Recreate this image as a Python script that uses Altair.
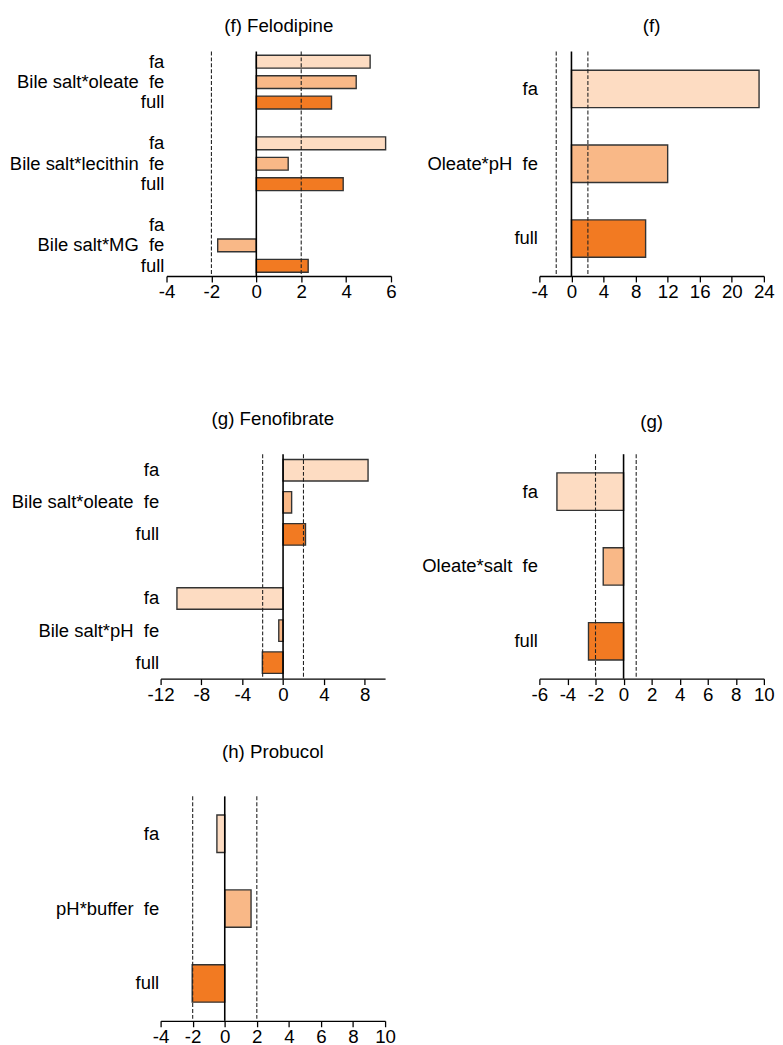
import altair as alt
import pandas as pd

SUBS = ["fa", "fe", "full"]
COLORS = ["#FDDCC2", "#F9B887", "#F27A22"]

# (f) Felodipine
f1_groups = ["Bile salt*oleate", "Bile salt*lecithin", "Bile salt*MG"]
f1_fa = [5.07, 5.76, None]
f1_fe = [4.45, 1.42, -1.72]
f1_full = [3.35, 3.87, 2.31]
f1_lines = [-2, 2]
f1_ticks = [-4, -2, 0, 2, 4, 6]
f1_domain = [-4, 6]

# (f) right
f2_groups = ["Oleate*pH"]
f2_fa = [23.4]
f2_fe = [12.0]
f2_full = [9.25]
f2_lines = [-1.9, 2.05]
f2_ticks = [-4, 0, 4, 8, 12, 16, 20, 24]
f2_domain = [-4, 24]

# (g) Fenofibrate
g1_groups = ["Bile salt*oleate", "Bile salt*pH"]
g1_fa = [8.33, -10.4]
g1_fe = [0.84, -0.42]
g1_full = [2.2, -2.03]
g1_lines = [-2, 2]
g1_ticks = [-12, -8, -4, 0, 4, 8]
g1_domain = [-12, 10]

# (g) right
g2_groups = ["Oleate*salt"]
g2_fa = [-4.75]
g2_fe = [-1.45]
g2_full = [-2.5]
g2_lines = [-2, 0.9]
g2_ticks = [-6, -4, -2, 0, 2, 4, 6, 8, 10]
g2_domain = [-6, 10]

# (h) Probucol
h_groups = ["pH*buffer"]
h_fa = [-0.49]
h_fe = [1.64]
h_full = [-2.03]
h_lines = [-2, 2]
h_ticks = [-4, -2, 0, 2, 4, 6, 8, 10]
h_domain = [-4, 10]

FS = 19
FS_Y = 18.7
NBSP = "\u00a0"
LABEL_EXPR = ("split(datum.value,'|')[1] == 'fe' ? split(datum.value,'|')[0] + '"
              + NBSP + NBSP + "fe' : split(datum.value,'|')[1]")


def panel(title, groups, fa, fe, full, lines, ticks, xdom, extent, toffset, pad_inner,
          inset=0, yoffset=0, tdx=0):
    rows = []
    ydomain = []
    for i, g in enumerate(groups):
        if i > 0:
            ydomain.append(f"gap{i}|")
        for sub, vals in zip(SUBS, [fa, fe, full]):
            key = f"{g}|{sub}"
            ydomain.append(key)
            if vals[i] is not None:
                rows.append({"key": key, "sub": sub, "v": vals[i]})
    df = pd.DataFrame(rows)

    width = 228 + inset
    xscale = alt.Scale(domain=xdom, nice=False, zero=False)
    if inset:
        xscale = alt.Scale(domain=xdom, nice=False, zero=False, range=[inset, width])
    x = alt.X(
        "v:Q",
        scale=xscale,
        axis=alt.Axis(title=None, values=ticks, grid=False, domainColor="black",
                      tickColor="black", tickSize=6, labelFontSize=FS, labelColor="black",
                      labelPadding=1, domainWidth=1.3, tickWidth=1.3, labelFlush=False,
                      labelOverlap=False, labelExpr="'' + datum.value"),
    )
    y = alt.Y(
        "key:N",
        sort=ydomain,
        scale=alt.Scale(domain=ydomain, paddingInner=pad_inner, paddingOuter=pad_inner / 2),
        axis=alt.Axis(title=None, domain=False, ticks=False, labelExpr=LABEL_EXPR,
                      labelFontSize=FS_Y, labelColor="black", labelPadding=2,
                      minExtent=extent, maxExtent=extent, labelLimit=400, offset=yoffset),
    )
    bars = alt.Chart(df).mark_bar(stroke="#333333", strokeWidth=1.4).encode(
        x=x, y=y,
        color=alt.Color("sub:N", scale=alt.Scale(domain=SUBS, range=COLORS), legend=None),
    )
    zero = alt.Chart(pd.DataFrame({"v": [0]})).mark_rule(color="black", strokeWidth=1.6).encode(x=x)
    dashed = alt.Chart(pd.DataFrame({"v": lines})).mark_rule(
        color="#222222", strokeWidth=1.1, strokeDash=[4, 2]).encode(x=x)
    return alt.layer(bars, zero, dashed).properties(
        width=width, height=228,
        title=alt.TitleParams(title, fontSize=FS, fontWeight="normal", color="black",
                              offset=toffset, anchor="middle", frame="group", dx=tdx),
    )


f1 = panel("(f) Felodipine", f1_groups, f1_fa, f1_fe, f1_full, f1_lines, f1_ticks, f1_domain,
           150, 15.3, 0.37, inset=6, yoffset=-5.3, tdx=3)
f2 = panel("(f)", f2_groups, f2_fa, f2_fe, f2_full, f2_lines, f2_ticks, f2_domain, 120, 15.3, 0.5)
g1 = panel("(g) Fenofibrate", g1_groups, g1_fa, g1_fe, g1_full, g1_lines, g1_ticks, g1_domain, 152, 25, 0.33)
g2 = panel("(g)", g2_groups, g2_fa, g2_fe, g2_full, g2_lines, g2_ticks, g2_domain, 120, 22, 0.5)
h = panel("(h) Probucol", h_groups, h_fa, h_fe, h_full, h_lines, h_ticks, h_domain, 152, 34, 0.5)

row1 = alt.hconcat(f1, f2, spacing=150.7, bounds="flush")
row2 = alt.hconcat(g1, g2, spacing=156.7, bounds="flush")
lower = alt.vconcat(row2, h, spacing=37.5)
chart = alt.vconcat(row1, lower, spacing=108).properties(padding=0)
chart = chart.configure(font="Liberation Sans", view=alt.ViewConfig(stroke="transparent"))

chart.save("out.html", embed_options={"renderer": "svg", "actions": False})
